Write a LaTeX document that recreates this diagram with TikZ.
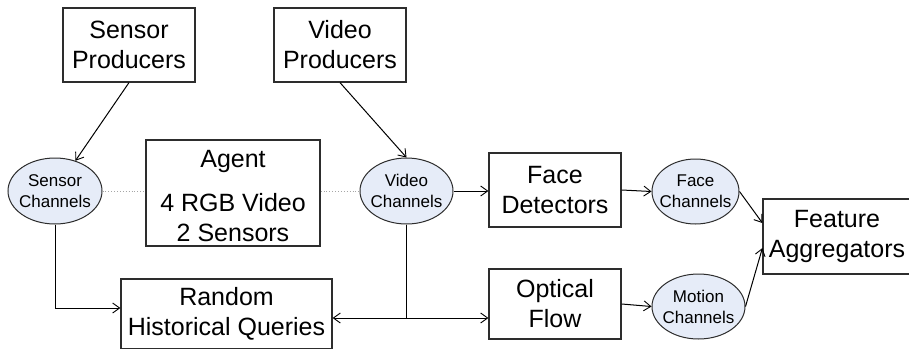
\documentclass[tikz,border=0pt]{standalone}
\usepackage{fontspec}
\setmainfont{Liberation Sans}
\usetikzlibrary{shapes.geometric,arrows.meta,calc}
\definecolor{chfill}{RGB}{230,236,248}
\definecolor{edge}{RGB}{45,45,45}
\tikzset{
  box/.style={draw=edge, line width=1.2pt, inner sep=0pt, align=center,
    font=\fontsize{25}{30}\selectfont},
  chan/.style={ellipse, draw=edge, fill=chfill, line width=1pt, inner sep=0pt,
    inner xsep=-8pt, align=center, font=\fontsize{17}{21}\selectfont},
  conn/.style={draw=black, line width=1pt},
  arr/.style={conn, -{Straight Barb[length=7pt,width=10pt,line width=0.9pt]}},
  dots/.style={draw=gray!70, line width=0.9pt, dotted}
}
\begin{document}
\begin{tikzpicture}[x=1pt,y=-1pt]
\clip (0,0) rectangle (909,348);
\fill[white] (0,0) rectangle (909,348);
% boxes
\node[box, minimum width=132, minimum height=74] (sp) at (129,45) {Sensor\\Producers};
\node[box, minimum width=132, minimum height=74] (vp) at (340,45) {Video\\Producers};
\node[box, minimum width=174, minimum height=106] (ag) at (233,193) {};
\node[align=center, inner sep=0pt, font=\fontsize{25}{30}\selectfont] (agt) at (233,196) {Agent\\[14pt]4 RGB Video\\2 Sensors};
\node[box, minimum width=132, minimum height=74] (fd) at (555,190) {Face\\Detectors};
\node[box, minimum width=132, minimum height=70] (of) at (555,304) {Optical\\Flow};
\node[box, minimum width=211, minimum height=70] (rhq) at (226.5,314) {Random\\Historical Queries};
\node[box, minimum width=148, minimum height=75] (fa) at (837,236.5) {Feature\\Aggregators};
% channels
\node[chan, minimum width=94, minimum height=66] (sc) at (55,191) {Sensor\\Channels};
\node[chan, minimum width=93, minimum height=66] (vc) at (406.5,191) {Video\\Channels};
\node[chan, minimum width=87, minimum height=65] (fc) at (695.5,191.5) {Face\\Channels};
\node[chan, minimum width=93, minimum height=65] (mc) at (698.5,306.5) {Motion\\Channels};
% dotted links
\draw[dots] (sc.east) -- (sc.east -| ag.west);
\draw[dots] (vc.west -| ag.east) -- (vc.west);
% connectors
\draw[arr] (sp.south) -- (sc.56);
\draw[arr] (vp.south) -- (vc.north);
\draw[arr] (vc.east) -- (vc.east -| fd.west);
\draw[arr] (fd.east -| fd.east) -- (fc.west);
\draw[arr] (of.east) -- (mc.west);
\draw[arr] (fc.east) -- ([yshift=13.5pt]fa.west);
\draw[arr] (mc.east) -- ([yshift=-11.5pt]fa.west);
\draw[arr] (sc.south) |- ([yshift=6pt]rhq.west);
\coordinate (j) at (406.5,318);
\draw[conn] (vc.south) -- (j);
\draw[arr] (j) -- (j -| rhq.east);
\draw[arr] (j) -- (j -| of.west);
\end{tikzpicture}
\end{document}
